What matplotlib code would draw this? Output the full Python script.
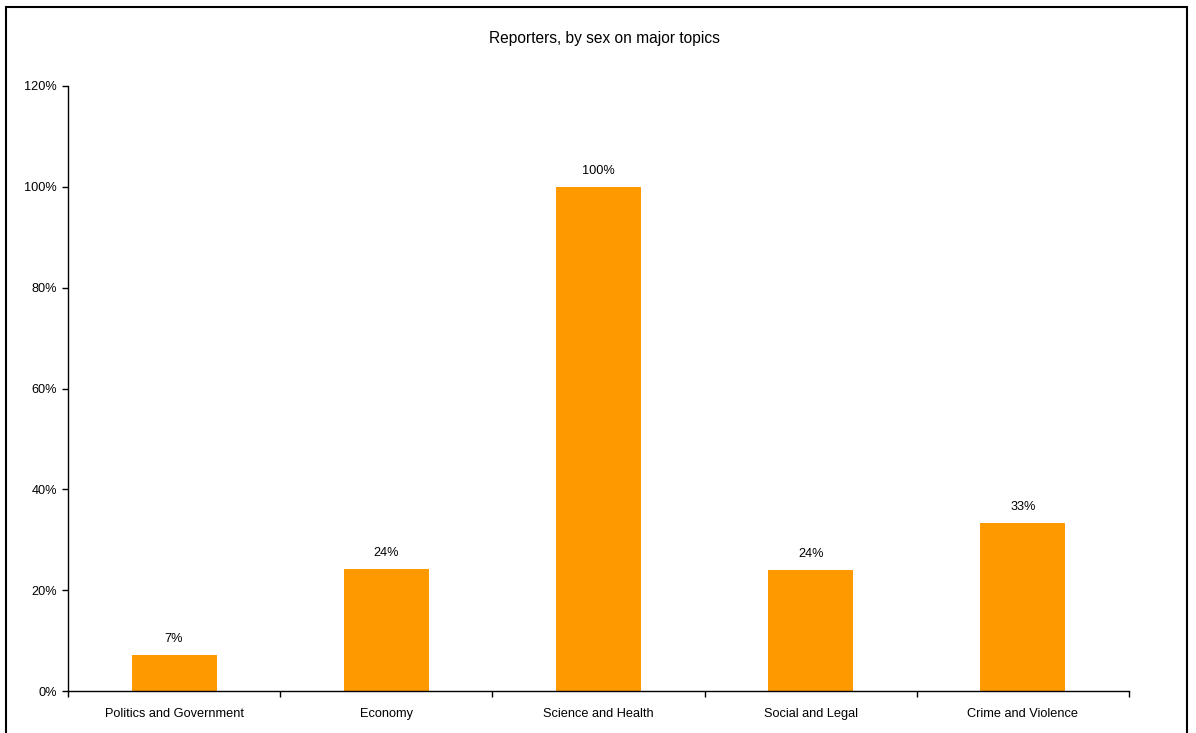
import matplotlib.pyplot as plt
from matplotlib.patches import Rectangle
from matplotlib.ticker import PercentFormatter, FixedLocator, NullFormatter

plt.rcParams['font.family'] = ['Liberation Sans', 'DejaVu Sans']

# Share of reporters per topic
topics = ["Politics and Government", "Economy", "Science and Health",
          "Social and Legal", "Crime and Violence"]
shares = [0.0714, 0.242, 1.0, 0.240, 0.333]
share_labels = ["7%", "24%", "100%", "24%", "33%"]

fig = plt.figure(figsize=(11.96, 7.33), dpi=100)
ax = fig.add_axes([68 / 1196, 1 - 691 / 733, (1129 - 68) / 1196, (691 - 86) / 733])

x = list(range(len(topics)))
ax.bar(x, shares, width=0.4, color="#FF9900", zorder=2)
for xi, v, lab in zip(x, shares, share_labels):
    ax.annotate(lab, (xi, v), xytext=(0, 7), textcoords="offset points",
                ha="center", va="bottom", fontsize=9.2)

ax.set_xlim(-0.5, len(topics) - 0.5)
ax.set_ylim(0, 1.2)
ax.set_yticks([0, 0.2, 0.4, 0.6, 0.8, 1.0, 1.2])
ax.yaxis.set_major_formatter(PercentFormatter(1.0, decimals=0))

# category labels centred, ticks between categories
ax.set_xticks(x, topics, minor=True)
ax.xaxis.set_major_locator(FixedLocator([i - 0.5 for i in range(len(topics) + 1)]))
ax.xaxis.set_major_formatter(NullFormatter())
ax.tick_params(axis="x", which="minor", length=0, pad=12, labelsize=9.2)
ax.tick_params(axis="x", which="major", length=4, width=1)
ax.tick_params(axis="y", length=4, width=1, labelsize=9.2, pad=4)

for side in ("top", "right"):
    ax.spines[side].set_visible(False)
for side in ("left", "bottom"):
    ax.spines[side].set_linewidth(1)

fig.text(604 / 1196, 1 - 38 / 733, "Reporters, by sex on major topics",
         ha="center", va="center", fontsize=11.2)

# outer chart frame
fig.patches.append(Rectangle((6 / 1196, -0.01), (1187 - 6) / 1196, 1.01 - 7 / 733,
                             transform=fig.transFigure, fill=False,
                             edgecolor="black", linewidth=1.5))

fig.savefig("out.png", dpi=100)
